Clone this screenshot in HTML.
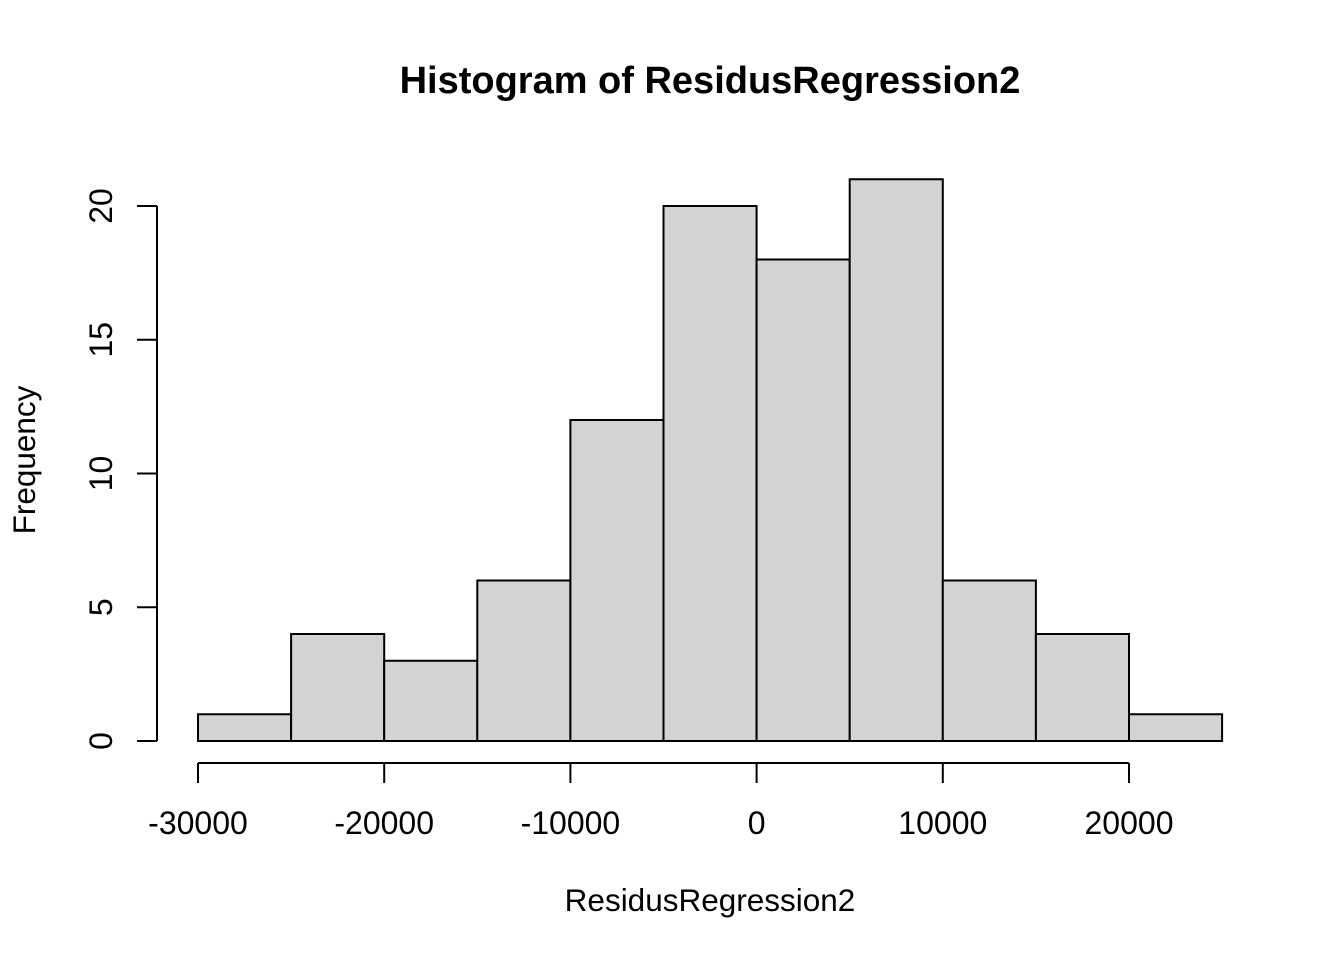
<!DOCTYPE html>
<html>
<head>
<meta charset="utf-8">
<style>
html,body{margin:0;padding:0;background:#fff;}
svg{display:block;font-family:"Liberation Sans",Arial,sans-serif;}
</style>
</head>
<body>
<svg id="chart" width="1344" height="960" viewBox="0 0 1344 960">
<text x="710" y="93" text-anchor="middle" font-size="38" font-weight="bold">Histogram of ResidusRegression2</text>
<text x="710" y="911" text-anchor="middle" font-size="31.5">ResidusRegression2</text>
<text transform="translate(35,460) rotate(-90)" text-anchor="middle" font-size="31.5">Frequency</text>
<g id="bars"></g>
<g id="xaxis"></g>
<g id="yaxis"></g>
</svg>
<script>
const binStarts = [-30000,-25000,-20000,-15000,-10000,-5000,0,5000,10000,15000,20000];
const binWidth = 5000;
const counts = [1,4,3,6,12,20,18,21,6,4,1];
const xTicks = [-30000,-20000,-10000,0,10000,20000];
const yTicks = [0,5,10,15,20];

const NS = "http://www.w3.org/2000/svg";
function xs(v){ return 198 + (v + 30000) * (1129 - 198) / 50000; }
function ys(v){ return 741 - v * (741 - 206) / 20; }
function mk(tag, attrs, parent){
  const e = document.createElementNS(NS, tag);
  for (const k in attrs) e.setAttribute(k, attrs[k]);
  parent.appendChild(e);
  return e;
}
const bars = document.getElementById('bars');
binStarts.forEach((s,i)=>{
  const x0 = xs(s), x1 = xs(s+binWidth);
  const r = mk('rect',{x:x0,y:ys(counts[i]),width:x1-x0,height:ys(0)-ys(counts[i]),fill:'#d3d3d3',stroke:'#000','stroke-width':2},bars);
  
  
});
const xa = document.getElementById('xaxis');
mk('line',{x1:xs(xTicks[0]),x2:xs(xTicks[xTicks.length-1]),y1:763,y2:763,stroke:'#000','stroke-width':2},xa);
xTicks.forEach(t=>{
  mk('line',{x1:xs(t),x2:xs(t),y1:763,y2:783,stroke:'#000','stroke-width':2},xa);
  const tx = mk('text',{x:xs(t),y:834,'text-anchor':'middle','font-size':32},xa);
  tx.textContent = t;
  
  
});
const ya = document.getElementById('yaxis');
mk('line',{x1:157,x2:157,y1:ys(yTicks[0]),y2:ys(yTicks[yTicks.length-1]),stroke:'#000','stroke-width':2},ya);
yTicks.forEach(t=>{
  mk('line',{x1:137,x2:157,y1:ys(t),y2:ys(t),stroke:'#000','stroke-width':2},ya);
  const tx = mk('text',{transform:`translate(112,${ys(t)}) rotate(-90)`,'text-anchor':'middle','font-size':32},ya);
  tx.textContent = t;
  
  
});
</script>
</body>
</html>
